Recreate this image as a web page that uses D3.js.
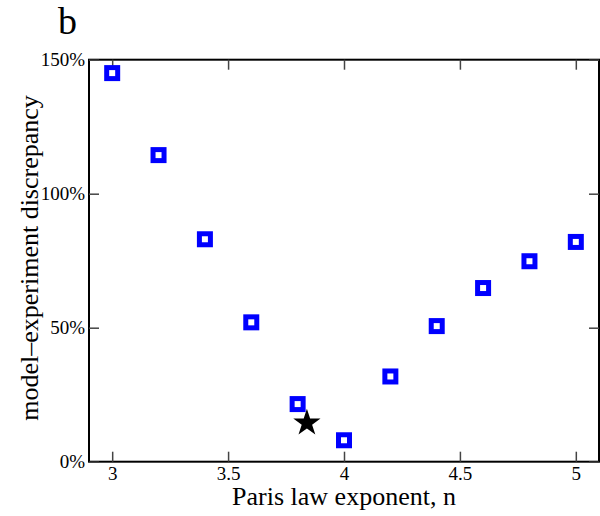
<!DOCTYPE html>
<html>
<head>
<meta charset="utf-8">
<script src="https://cdn.jsdelivr.net/npm/d3@7"></script>
<style>
  html, body { margin: 0; padding: 0; background: #fff; }
  svg { display: block; }
  text { font-family: "Liberation Serif", "DejaVu Serif", serif; fill: #000; }
</style>
</head>
<body>
<svg id="chart" width="600" height="516"></svg>
<script>
// Paris law exponent vs. model-experiment discrepancy
const exponents = [3.0, 3.2, 3.4, 3.6, 3.8, 4.0, 4.2, 4.4, 4.6, 4.8, 5.0];
const discrepancy = [145, 114.4, 83, 52, 21.5, 8, 31.8, 50.6, 64.8, 74.8, 82];
const bestFit = [{ n: 3.84, d: 14.8 }];
const xTicks = [3, 3.5, 4, 4.5, 5];
const yTicks = [0, 50, 100, 150];

const svg = d3.select("#chart");
const plotLeft = 89, plotRight = 599, plotTop = 59.7, plotBottom = 461.7;

const x = d3.scaleLinear().domain([2.9, 5.1]).range([plotLeft, plotRight]);
const y = d3.scaleLinear().domain([0, 150]).range([plotBottom, plotTop]);

const tickLen = 10;
const tickFont = 19;

// frame
svg.append("rect")
  .attr("x", plotLeft).attr("y", plotTop)
  .attr("width", plotRight - plotLeft).attr("height", plotBottom - plotTop)
  .attr("fill", "none").attr("stroke", "#000").attr("stroke-width", 2);

function styleAxis(g) {
  g.select(".domain").remove();
  g.attr("font-family", null).attr("font-size", null);
  g.selectAll("line").attr("stroke", "#444").attr("stroke-width", 1.5);
  g.selectAll("text")
    .style("font-family", "'Liberation Serif', serif")
    .style("font-size", tickFont + "px");
}

// x axis: ticks pointing inward, labels below
const xAxis = d3.axisBottom(x).tickValues(xTicks).tickSizeInner(-tickLen).tickSizeOuter(0)
  .tickPadding(5).tickFormat(d3.format("~g"));
svg.append("g").attr("transform", `translate(0,${plotBottom})`).call(xAxis).call(styleAxis);

// mirrored ticks on top
const xTop = d3.axisTop(x).tickValues(xTicks).tickSizeInner(-tickLen).tickSizeOuter(0).tickFormat("");
svg.append("g").attr("transform", `translate(0,${plotTop})`).call(xTop).call(styleAxis);

// y axis
const yAxis = d3.axisLeft(y).tickValues(yTicks).tickSizeInner(-tickLen).tickSizeOuter(0)
  .tickPadding(4).tickFormat(d => d + "%");
svg.append("g").attr("transform", `translate(${plotLeft},0)`).call(yAxis).call(styleAxis);

// mirrored ticks on right
const yRight = d3.axisRight(y).tickValues(yTicks).tickSizeInner(-tickLen).tickSizeOuter(0).tickFormat("");
svg.append("g").attr("transform", `translate(${plotRight},0)`).call(yRight).call(styleAxis);

// hollow square markers
const side = 11;
svg.append("g").selectAll("rect")
  .data(exponents.map((n, i) => ({ n, d: discrepancy[i] })))
  .join("rect")
  .attr("x", d => x(d.n) - side / 2)
  .attr("y", d => y(d.d) - side / 2)
  .attr("width", side).attr("height", side)
  .attr("fill", "#fff").attr("stroke", "#0000ff").attr("stroke-width", 5);

// star marking the best fit
const star = d3.symbol().type(d3.symbolStar).size(230);
svg.append("g").selectAll("path")
  .data(bestFit)
  .join("path")
  .attr("d", star)
  .attr("transform", d => `translate(${x(d.n)},${y(d.d) + 1})`)
  .attr("fill", "#000");

// axis titles
svg.append("text")
  .attr("x", 344).attr("y", 505)
  .attr("text-anchor", "middle").style("font-size", "26px")
  .text("Paris law exponent, n");

svg.append("text")
  .attr("transform", "translate(38,258) rotate(-90)")
  .attr("text-anchor", "middle").style("font-size", "26px")
  .text("model\u2013experiment discrepancy");

// panel letter
svg.append("text")
  .attr("x", 58).attr("y", 34)
  .style("font-size", "38px")
  .text("b");
</script>
</body>
</html>
